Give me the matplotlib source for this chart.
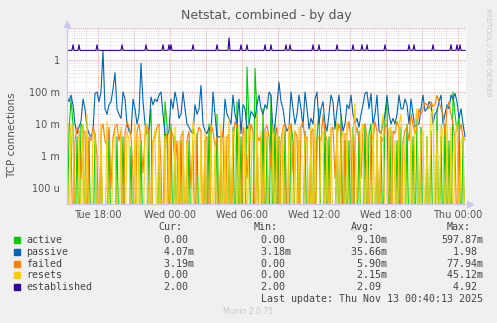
import numpy as np
import matplotlib
matplotlib.use("Agg")
from matplotlib import pyplot as plt
from matplotlib.patches import Rectangle
import matplotlib.ticker as mtick

# hours relative to Tue 18:00, one sample every 10 min
t_start, t_end = -2.583, 30.667
times = -2.583 + np.arange(200) / 6

active = [0, 0.006, 0.06, 0.01, 0, 0.004, 0, 0.01, 0.008, 0, 0, 0.003, 0, 0, 0.005, 0, 0, 0.003, 0, 0,
          0, 0.006, 0, 0, 0, 0.004, 0, 0, 0.004, 0, 0, 0, 0.002, 0, 0, 0, 0, 0.003, 0, 0,
          0, 0.006, 0.03, 0, 0, 0, 0.004, 0, 0, 0.05, 0.01, 0, 0.01, 0, 0.004, 0, 0, 0.003, 0, 0,
          0, 0.003, 0, 0, 0, 0.005, 0, 0, 0, 0.003, 0, 0.01, 0, 0, 0, 0.02, 0, 0.004, 0, 0,
          0, 0.004, 0, 0.008, 0, 0.05, 0, 0.004, 0, 0, 0.6, 0.01, 0, 0, 0.55, 0.02, 0, 0, 0.03, 0,
          0.004, 0, 0.08, 0, 0.01, 0, 0.004, 0, 0, 0.006, 0, 0, 0.01, 0.003, 0, 0, 0.003, 0, 0, 0.006,
          0, 0, 0.006, 0, 0, 0.004, 0.03, 0, 0, 0.008, 0, 0.004, 0, 0, 0, 0.01, 0, 0.02, 0, 0.003,
          0, 0.003, 0, 0.008, 0, 0, 0.006, 0, 0, 0.01, 0, 0.005, 0.01, 0, 0, 0.003, 0, 0.004, 0, 0.02,
          0.05, 0, 0.006, 0, 0, 0.003, 0, 0.008, 0, 0, 0.01, 0, 0, 0.004, 0, 0.02, 0, 0.008, 0, 0,
          0.004, 0, 0.006, 0, 0, 0.03, 0, 0.004, 0, 0.01, 0, 0.003, 0, 0.1, 0.02, 0.006, 0.02, 0, 0.004, 0]

passive = [0.07, 0.05, 0.08, 0.04, 0.01, 0.005, 0.008, 0.012, 0.06, 0.03, 0.008, 0.005, 0.004, 0.006, 0.09, 0.1, 0.05, 0.1, 1.98, 0.03,
           0.02, 0.04, 0.05, 0.12, 0.4, 0.03, 0.02, 0.015, 0.1, 0.06, 0.01, 0.006, 0.005, 0.06, 0.03, 0.01, 0.02, 0.8, 0.05, 0.01,
           0.005, 0.007, 0.07, 0.04, 0.06, 0.05, 0.08, 0.1, 0.02, 0.005, 0.004, 0.006, 0.06, 0.03, 0.1, 0.05, 0.015, 0.02, 0.1, 0.03,
           0.01, 0.008, 0.006, 0.005, 0.04, 0.02, 0.03, 0.16, 0.01, 0.006, 0.005, 0.008, 0.005, 0.1, 0.02, 0.004, 0.004, 0.004, 0.004, 0.06,
           0.02, 0.015, 0.01, 0.08, 0.02, 0.01, 0.06, 0.005, 0.04, 0.03, 0.007, 0.01, 0.025, 0.02, 0.015, 0.04, 0.08, 0.03, 0.02, 0.04,
           0.03, 0.1, 0.08, 0.005, 0.01, 0.04, 0.2, 0.05, 0.03, 0.01, 0.006, 0.008, 0.1, 0.03, 0.01, 0.02, 0.08, 0.03, 0.008, 0.1,
           0.03, 0.007, 0.015, 0.01, 0.06, 0.1, 0.01, 0.03, 0.05, 0.01, 0.006, 0.02, 0.08, 0.05, 0.007, 0.03, 0.08, 0.02, 0.006, 0.01,
           0.04, 0.03, 0.08, 0.02, 0.01, 0.015, 0.008, 0.02, 0.04, 0.09, 0.1, 0.03, 0.09, 0.01, 0.02, 0.08, 0.006, 0.005, 0.01, 0.02,
           0.08, 0.02, 0.01, 0.015, 0.01, 0.02, 0.08, 0.03, 0.03, 0.06, 0.04, 0.01, 0.06, 0.02, 0.008, 0.01, 0.01, 0.03, 0.08, 0.025,
           0.03, 0.05, 0.04, 0.01, 0.02, 0.025, 0.05, 0.08, 0.01, 0.02, 0.04, 0.03, 0.08, 0.06, 0.09, 0.05, 0.015, 0.03, 0.01, 0.00407]

failed = [0.01, 0.01, 0.004, 0, 0.003, 0.008, 0.006, 0.0002, 0.005, 0.006, 0, 0.004, 0.003, 0.008, 0.005, 0.001, 0, 0.006, 0.01, 0.003,
          0.002, 0.008, 0.0001, 0.004, 0.008, 0.01, 0.003, 0.006, 0, 0.005, 0.012, 0.008, 0.004, 0.0003, 0, 0.006, 0.01, 0.003, 0.0003, 0.004,
          0.009, 0.005, 0, 0.003, 0.004, 0.008, 0.01, 0.0005, 0, 0.003, 0.005, 0, 0.007, 0.004, 0.0005, 0.003, 0, 0.004, 0.006, 0,
          0.003, 0.006, 0.0001, 0.003, 0, 0.004, 0.008, 0.006, 0, 0.003, 0.004, 0, 0.01, 0.006, 0.002, 0.004, 0, 0.003, 0.006, 0,
          0.004, 0.005, 0, 0.003, 0.012, 0.008, 0.003, 0, 0.008, 0.004, 0.0002, 0.003, 0.01, 0.006, 0, 0.005, 0.003, 0.004, 0, 0.007,
          0.009, 0.004, 0.0004, 0.003, 0.004, 0.008, 0, 0.003, 0.008, 0.01, 0, 0.004, 0.01, 0.0003, 0.006, 0.004, 0, 0.008, 0.012, 0.003,
          0.004, 0, 0.006, 0.007, 0, 0.003, 0.004, 0.003, 0.02, 0.005, 0.003, 0, 0.006, 0.008, 0.0002, 0.004, 0.01, 0.006, 0, 0.005,
          0.005, 0.012, 0.003, 0, 0.004, 0.008, 0.003, 0.0002, 0.006, 0.01, 0.004, 0, 0.005, 0.003, 0.012, 0.006, 0, 0.004, 0.003, 0.008,
          0.01, 0.004, 0, 0.006, 0.005, 0.012, 0.008, 0, 0.003, 0.006, 0.008, 0.003, 0.02, 0.01, 0.005, 0.008, 0.03, 0.02, 0.03, 0.045,
          0.04, 0.03, 0.05, 0.035, 0.04, 0.078, 0.05, 0.03, 0.02, 0.004, 0.03, 0.05, 0.02, 0.01, 0.003, 0, 0.005, 0.01, 0.004, 0.00319]

resets = [0.003, 0, 0.01, 0.008, 0, 0, 0.004, 0, 0.01, 0, 0.02, 0, 0, 0.006, 0.004, 0, 0, 0.01, 0, 0,
          0.012, 0, 0, 0.003, 0.006, 0, 0, 0.008, 0, 0, 0.006, 0.003, 0, 0, 0.01, 0, 0.004, 0, 0, 0.008,
          0.01, 0, 0, 0.003, 0.006, 0, 0.008, 0, 0, 0.004, 0, 0.005, 0, 0, 0.008, 0, 0.003, 0, 0.006, 0,
          0.003, 0, 0, 0.012, 0.004, 0, 0, 0.004, 0, 0.006, 0, 0, 0.008, 0, 0.003, 0, 0, 0.01, 0, 0.004,
          0, 0.015, 0, 0.006, 0.004, 0, 0.01, 0, 0, 0.008, 0, 0.01, 0.003, 0, 0, 0.02, 0, 0.006, 0, 0.003,
          0.006, 0, 0, 0.01, 0, 0.004, 0.003, 0, 0.008, 0, 0, 0.01, 0.004, 0, 0.006, 0, 0.008, 0, 0, 0.004,
          0.003, 0, 0.008, 0, 0.01, 0, 0, 0.004, 0.006, 0, 0.003, 0, 0.008, 0, 0, 0.012, 0, 0.003, 0.006, 0,
          0.012, 0, 0, 0.004, 0.045, 0, 0, 0.006, 0.01, 0, 0.003, 0, 0, 0.01, 0, 0.004, 0, 0.006, 0.02, 0,
          0, 0.006, 0.008, 0, 0.003, 0, 0.01, 0.02, 0, 0.004, 0, 0, 0.008, 0, 0.01, 0.03, 0, 0.004, 0.006, 0,
          0.004, 0, 0.02, 0.03, 0, 0.006, 0, 0.01, 0.004, 0, 0.01, 0, 0.008, 0, 0.004, 0.01, 0, 0.003, 0.004, 0]

# established sits at 2 with short bumps
est_base = 2.0
est_spike_hours = [-2.08, -1.58, -0.08, 2.0, 4.0, 5.42, 5.92, 6.08, 7.92, 9.92,
                   10.92, 11.92, 12.42, 13.92, 14.42, 15.67, 16.0, 17.92, 18.42,
                   19.92, 21.25, 22.0, 22.42, 23.92, 25.92, 26.33, 27.92, 29.42,
                   29.92, 30.17]
est_spike_vals = [3.0, 3.0, 3.0, 3.0, 3.0, 3.0, 3.0, 3.0, 3.0, 3.0,
                  4.92, 3.0, 3.0, 3.0, 3.0, 3.0, 3.0, 3.0, 3.0,
                  3.0, 3.0, 3.0, 3.0, 3.0, 3.0, 3.0, 3.0, 3.0,
                  3.0, 3.0]

names = ["active", "passive", "failed", "resets", "established"]
colors = ["#00CC00", "#0066B3", "#FF8000", "#FFCC00", "#330099"]
cur = ["0.00", "4.07m", "3.19m", "0.00", "2.00"]
mins = ["0.00", "3.18m", "0.00", "0.00", "2.00"]
avgs = ["9.10m", "35.66m", "5.90m", "2.15m", "2.09"]
maxs = ["597.87m", "1.98", "77.94m", "45.12m", "4.92"]

xtick_hours = [0, 6, 12, 18, 24, 30]
xtick_labels = ["Tue 18:00", "Wed 00:00", "Wed 06:00", "Wed 12:00", "Wed 18:00", "Thu 00:00"]
ytick_vals = [1e-4, 1e-3, 1e-2, 1e-1, 1]
ytick_labels = ["100 u", "1 m", "10 m", "100 m", "1"]

# %%
W, H = 497, 323
fig = plt.figure(figsize=(W / 100, H / 100), dpi=100, facecolor="#F0F0F0")
ax = fig.add_axes([67 / W, 1 - 204 / H, (466 - 67) / W, (204 - 28) / H])
ax.set_facecolor("white")

est_t = np.arange(t_start, t_end, 1 / 12)
est = np.full(len(est_t), est_base)
for h, v in zip(est_spike_hours, est_spike_vals):
    est[np.argmin(np.abs(est_t - h))] = v

floor = 1e-6  # zeros drop below the visible range
for name, col, vals in zip(names[:4], colors[:4], [active, passive, failed, resets]):
    v = np.array(vals, dtype=float)
    v[v <= 0] = floor
    ax.plot(times, v, color=col, lw=0.8)
ax.plot(est_t, est, color=colors[4], lw=0.8)

ax.set_yscale("log")
ax.set_xlim(t_start, t_end)
ax.set_ylim(10 ** -4.5, 10)

ax.yaxis.set_major_locator(mtick.FixedLocator(ytick_vals + [10]))
ax.yaxis.set_major_formatter(mtick.FixedFormatter(ytick_labels + [""]))
ax.yaxis.set_minor_locator(mtick.LogLocator(base=10, subs=np.arange(2, 10)))
ax.yaxis.set_minor_formatter(mtick.NullFormatter())
ax.xaxis.set_major_locator(mtick.FixedLocator(xtick_hours))
ax.xaxis.set_major_formatter(mtick.FixedFormatter(xtick_labels))
ax.xaxis.set_minor_locator(mtick.MultipleLocator(1))

ax.grid(which="minor", color="#D8D8D8", ls=(0, (1, 1)), lw=0.6)
ax.grid(which="major", axis="y", color="#F0A0A0", ls=(0, (1, 1)), lw=0.7)
for h in np.arange(0, 31, 3):
    ax.axvline(h, color="#F0A0A0", ls=(0, (1, 1)), lw=0.7, zorder=0.5)
ax.set_axisbelow(True)

for s in ["top", "right"]:
    ax.spines[s].set_visible(False)
for s in ["left", "bottom"]:
    ax.spines[s].set_color("#C8C8E8")
    ax.spines[s].set_linewidth(0.8)
ax.tick_params(which="both", length=0, labelsize=7, colors="#555555", pad=5)
ax.tick_params(axis="x", pad=4)
ax.plot([0], [1.02], marker="^", color="#C8C8F0", ms=4, transform=ax.transAxes, clip_on=False)
ax.plot([1.01], [0], marker=">", color="#C8C8F0", ms=4, transform=ax.transAxes, clip_on=False)

fig.text(266 / W, 1 - 15 / H, "Netstat, combined - by day", ha="center", va="center",
         fontsize=9, color="#555555")
fig.text(12 / W, 1 - 135 / H, "TCP connections", rotation=90, ha="center", va="center",
         fontsize=7.5, color="#555555")
fig.text(488 / W, 1 - 52 / H, "RRDTOOL / TOBI OETIKER", rotation=270, ha="center", va="center",
         fontsize=5, color="#C8C8C8")

# legend block
mono = dict(family="DejaVu Sans Mono", fontsize=7.2, color="#444444", va="center")
for x, lab in zip([158, 254, 351, 447], ["Cur:", "Min:", "Avg:", "Max:"]):
    fig.text(x / W, 1 - 227 / H, lab, **mono)


def fmt(s):
    num = s.rstrip("m")
    suf = "m" if s.endswith("m") else " "
    return f"{num:>6}{suf}"


for i, name in enumerate(names):
    y = 240 + i * 11.8
    fig.add_artist(Rectangle((14 / W, 1 - (y + 3) / H), 6 / W, 6 / H, color=colors[i],
                             transform=fig.transFigure))
    fig.text(26 / W, 1 - y / H, name, **mono)
    for x, col in zip([152, 249, 345, 441], [cur, mins, avgs, maxs]):
        fig.text(x / W, 1 - y / H, fmt(col[i]), **mono)
fig.text(483 / W, 1 - 299 / H, "Last update: Thu Nov 13 00:40:13 2025", ha="right", **mono)
fig.text(248 / W, 1 - 312 / H, "Munin 2.0.75", ha="center", va="center", fontsize=5.5,
         color="#C8C8C8")

fig.savefig("out.png", dpi=100, facecolor=fig.get_facecolor())
